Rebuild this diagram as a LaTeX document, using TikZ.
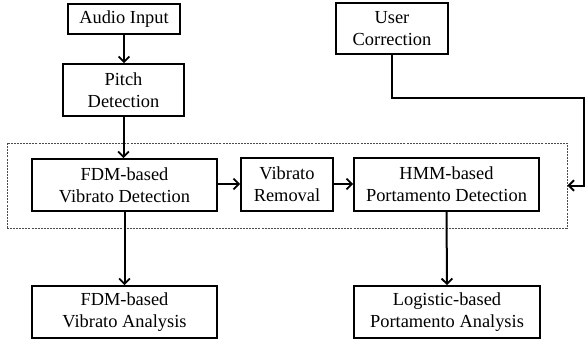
\documentclass[tikz,border=0pt]{standalone}
\usepackage{fontspec}
\setmainfont{Liberation Serif}
\usetikzlibrary{arrows.meta}
\begin{document}
\begin{tikzpicture}[x=0.75pt,y=-0.75pt,
  box/.style={draw=black,line width=1.2pt,rectangle,inner sep=0pt,align=center,
    font=\fontsize{13.8}{16.5}\selectfont},
  groupbox/.style={draw=black!70,line width=0.6pt,dash pattern=on 1.5pt off 0.8pt,rectangle,inner sep=0pt},
  arr/.style={draw=black,line width=1.5pt,-{Straight Barb[length=4pt,width=8pt,line width=1.4pt]}}]
\useasboundingbox (0,0) rectangle (586,344);
\node[groupbox,minimum width=420pt,minimum height=63.75pt] (grp) at (287,185.5) {};
\node[box,minimum width=84pt,minimum height=22.5pt] (audio) at (124,19) {Audio Input};
\node[box,minimum width=90.75pt,minimum height=39pt] (pitch) at (123.5,90) {Pitch\\Detection};
\node[box,minimum width=138.75pt,minimum height=39pt] (fdmdet) at (124.5,185) {FDM-based\\Vibrato Detection};
\node[box,minimum width=69pt,minimum height=39.75pt] (removal) at (287,184.5) {Vibrato\\Removal};
\node[box,minimum width=138.75pt,minimum height=39.75pt] (hmmdet) at (446.5,184.5) {HMM-based\\Portamento Detection};
\node[box,minimum width=84pt,minimum height=38.25pt] (user) at (392,28.5) {User\\Correction};
\node[box,minimum width=138.75pt,minimum height=39pt] (fdmana) at (124.5,312) {FDM-based\\Vibrato Analysis};
\node[box,minimum width=139.5pt,minimum height=39pt] (logana) at (447,312) {Logistic-based\\Portamento Analysis};
\draw[arr] (audio.south) -- (audio.south |- pitch.north);
\draw[arr] (pitch.south) -- (pitch.south |- fdmdet.north);
\draw[arr] (fdmdet.east |- 0,184) -- (removal.west |- 0,184);
\draw[arr] (removal.east |- 0,184) -- (hmmdet.west |- 0,184);
\draw[arr] (fdmdet.south) -- (fdmana.north);
\draw[arr] (hmmdet.south) -- (logana.north);
\coordinate (turn) at (584,98);
\draw[arr] (user.south) |- (turn) |- (grp.east);
\end{tikzpicture}
\end{document}
